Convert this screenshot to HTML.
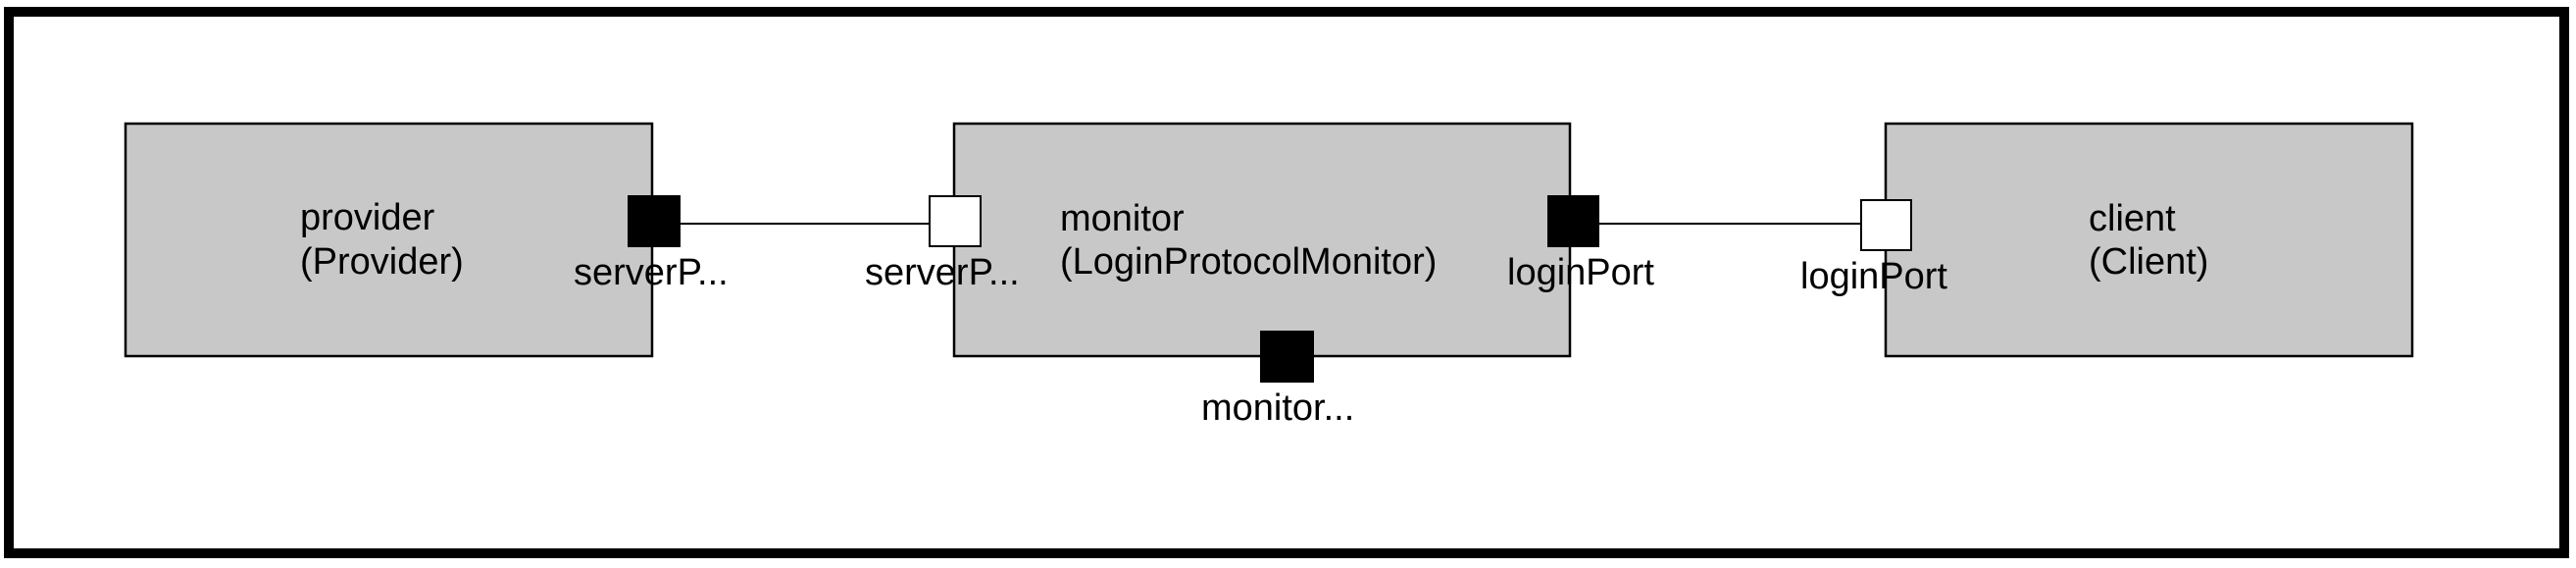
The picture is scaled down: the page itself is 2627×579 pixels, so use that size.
<!DOCTYPE html>
<html><head><meta charset="utf-8"><style>
html,body{margin:0;padding:0;background:#fff;}
svg{display:block;}
text{font-family:"Liberation Sans",Arial,sans-serif;font-size:38px;fill:#000;}
</style></head><body>
<svg width="2627" height="579" viewBox="0 0 2627 579" xmlns="http://www.w3.org/2000/svg">
<rect x="0" y="0" width="2627" height="579" fill="#fff"/>
<rect x="9" y="12" width="2606" height="552" fill="none" stroke="#000" stroke-width="10"/>
<rect x="128" y="126" width="537" height="237" fill="#c8c8c8" stroke="#000" stroke-width="2.5"/>
<text x="306" y="234">provider</text>
<text x="306" y="279">(Provider)</text>
<rect x="973" y="126" width="628" height="237" fill="#c8c8c8" stroke="#000" stroke-width="2.5"/>
<text x="1081" y="235">monitor</text>
<text x="1081" y="279">(LoginProtocolMonitor)</text>
<rect x="1923" y="126" width="537" height="237" fill="#c8c8c8" stroke="#000" stroke-width="2.5"/>
<text x="2130" y="235">client</text>
<text x="2130" y="279">(Client)</text>
<line x1="694" y1="228" x2="947" y2="228" stroke="#000" stroke-width="2"/>
<line x1="1631" y1="228" x2="1897" y2="228" stroke="#000" stroke-width="2"/>
<rect x="640" y="199" width="54" height="53" fill="#000"/>
<rect x="948" y="200" width="52" height="51" fill="#fff" stroke="#000" stroke-width="2"/>
<rect x="1578" y="199" width="53" height="53" fill="#000"/>
<rect x="1898" y="204" width="51" height="51" fill="#fff" stroke="#000" stroke-width="2"/>
<rect x="1285" y="337" width="55" height="53" fill="#000"/>
<text x="585" y="290">serverP...</text>
<text x="882" y="290">serverP...</text>
<text x="1537" y="290">loginPort</text>
<text x="1836" y="294">loginPort</text>
<text x="1225" y="428">monitor...</text>
</svg>
</body></html>
